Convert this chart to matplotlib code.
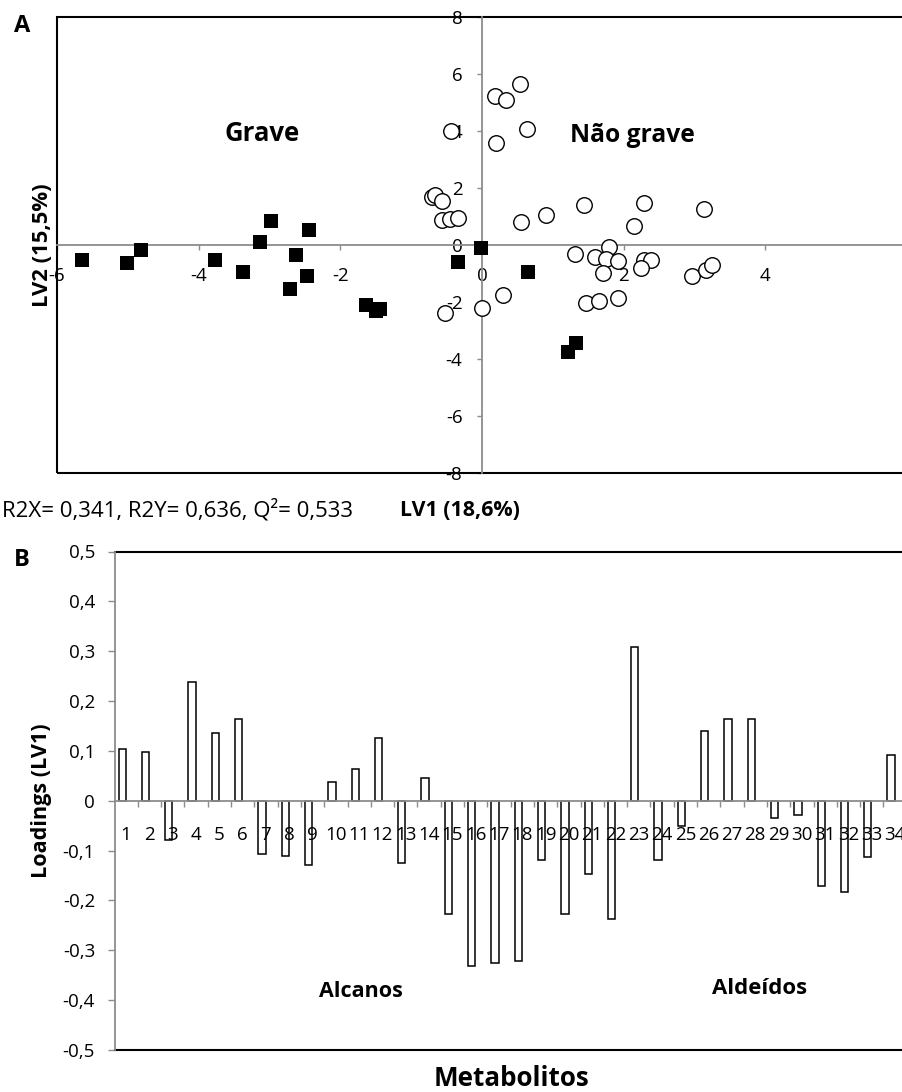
import matplotlib
matplotlib.use('Agg')
from matplotlib import pyplot as plt
from matplotlib.patches import Rectangle
import numpy as np

plt.rcParams['font.family'] = ['Open Sans', 'DejaVu Sans']
plt.rcParams['axes.unicode_minus'] = False

# scores LV1 x LV2 - pacientes graves (quadrados)
grave_lv1 = [-5.65, -5.01, -4.82, -3.77, -3.37, -3.13, -2.98, -2.62, -2.71, -2.47,
             -2.44, -1.64, -1.50, -1.44, -0.34, -0.01, 0.65, 1.32, 1.21]
grave_lv2 = [-0.53, -0.63, -0.18, -0.55, -0.95, 0.10, 0.85, -0.35, -1.54, -1.09,
             0.53, -2.11, -2.34, -2.25, -0.60, -0.10, -0.94, -3.46, -3.76]

# scores LV1 x LV2 - pacientes nao graves (circulos)
nao_grave_lv1 = [0.18, 0.34, 0.54, 0.63, 0.20, -0.44, 1.44, 2.29, 3.13, 2.14,
                 0.90, 0.55, 1.79, 1.31, 1.59, 1.75, 1.92, 1.71, 2.29, 2.39,
                 2.24, 2.96, 3.16, 3.25, 1.47, 1.65, 1.92, 0.29, 0.00, -0.52,
                 -0.71, -0.67, -0.57, -0.57, -0.45, -0.34]
nao_grave_lv2 = [5.22, 5.10, 5.66, 4.07, 3.58, 4.01, 1.40, 1.47, 1.27, 0.67,
                 1.03, 0.79, -0.08, -0.32, -0.43, -0.50, -0.56, -1.00, -0.53, -0.55,
                 -0.82, -1.11, -0.90, -0.70, -2.03, -1.96, -1.88, -1.78, -2.21, -2.41,
                 1.67, 1.76, 1.55, 0.88, 0.90, 0.94]

score_xticks = [-6, -4, -2, 0, 2, 4, 6]
score_yticks = [-8, -6, -4, -2, 0, 2, 4, 6, 8]

# loadings da LV1 por metabolito
metabolitos = list(range(1, 35))
loadings = [0.104, 0.097, -0.078, 0.239, 0.135, 0.164, -0.106, -0.110, -0.128, 0.037,
            0.064, 0.126, -0.125, 0.045, -0.228, -0.331, -0.325, -0.321, -0.119, -0.228,
            -0.147, -0.238, 0.309, -0.119, -0.050, 0.139, 0.164, 0.164, -0.035, -0.029,
            -0.171, -0.183, -0.113, 0.091]
loading_ticks = [-0.5, -0.4, -0.3, -0.2, -0.1, 0, 0.1, 0.2, 0.3, 0.4, 0.5]
loading_labels = ['-0,5', '-0,4', '-0,3', '-0,2', '-0,1', '0',
                  '0,1', '0,2', '0,3', '0,4', '0,5']

GRAY = '#8c8c8c'
W, H = 902, 1092
TICK_FS = 13.5

fig = plt.figure(figsize=(W / 100, H / 100), dpi=100)


def fx(px):
    return px / W


def fy(py):
    return 1 - py / H


# ---------------- A: scores ----------------
axA = fig.add_axes([fx(57), fy(472.5), 850 / W, 455.5 / H])
axA.set_xlim(-6, 6)
axA.set_ylim(-8, 8)
axA.scatter(grave_lv1, grave_lv2, marker='s', s=112, c='black', linewidths=0, zorder=3)
axA.scatter(nao_grave_lv1, nao_grave_lv2, marker='o', s=125, facecolors='white',
            edgecolors='black', linewidths=1.0, zorder=3)

for side in ['top', 'right']:
    axA.spines[side].set_visible(False)
for side in ['left', 'bottom']:
    axA.spines[side].set_position(('data', 0))
    axA.spines[side].set_color(GRAY)
    axA.spines[side].set_linewidth(1.3)
axA.add_patch(Rectangle((0, 0), 1, 1, transform=axA.transAxes, fill=False,
                        edgecolor='black', linewidth=1.5, clip_on=False, zorder=2))

axA.set_xticks(score_xticks)
axA.set_xticklabels([str(v) for v in score_xticks])
axA.set_yticks(score_yticks)
axA.set_yticklabels([str(v) for v in score_yticks])
axA.tick_params(axis='x', direction='out', length=3.6, width=1, color=GRAY,
                pad=12.5, labelsize=TICK_FS)
axA.tick_params(axis='y', direction='out', length=3.6, width=1, color=GRAY,
                pad=10.5, labelsize=TICK_FS)

axA.text(-3.1, 3.9, 'Grave', ha='center', va='center', fontsize=18.5, fontweight='bold')
axA.text(2.13, 3.84, 'Não grave', ha='center', va='center', fontsize=17.7, fontweight='bold')

fig.text(fx(22.5), fy(26.5), 'A', ha='center', va='center', fontsize=17, fontweight='bold')
fig.text(fx(42), fy(245), 'LV2 (15,5%)', ha='center', va='center', rotation=90,
         fontsize=15.8, fontweight='bold')
fig.text(fx(2), fy(510), 'R2X= 0,341, R2Y= 0,636, Q²= 0,533', ha='left', va='center',
         fontsize=16)
fig.text(fx(460), fy(510), 'LV1 (18,6%)', ha='center', va='center', fontsize=15.4,
         fontweight='bold')

# ---------------- B: loadings ----------------
axB = fig.add_axes([fx(114.5), fy(1050), 792.2 / W, 498.5 / H])
axB.set_xlim(0.5, 34.5)
axB.set_ylim(-0.5, 0.5)
axB.bar(np.array(metabolitos) - 0.17, loadings, width=0.31, color='white',
        edgecolor='black', linewidth=1.1, zorder=1)

axB.spines['top'].set_visible(False)
axB.spines['right'].set_visible(False)
axB.spines['left'].set_color(GRAY)
axB.spines['left'].set_linewidth(1.3)
axB.spines['bottom'].set_position(('data', 0))
axB.spines['bottom'].set_color(GRAY)
axB.spines['bottom'].set_linewidth(1.3)
for yy in (0, 1):
    axB.plot([0, 1], [yy, yy], transform=axB.transAxes, color='black', lw=1.5,
             clip_on=False, zorder=2)

axB.set_yticks(loading_ticks)
axB.set_yticklabels(loading_labels)
axB.set_xticks(metabolitos)
axB.set_xticklabels([str(m) for m in metabolitos])
axB.set_xticks(np.arange(1.5, 34.5, 1), minor=True)
axB.tick_params(axis='x', which='major', length=0, pad=18, labelsize=TICK_FS)
axB.tick_params(axis='x', which='minor', direction='out', length=4.3, width=1, color=GRAY)
axB.tick_params(axis='y', direction='out', length=5, width=1, color=GRAY, pad=9,
                labelsize=TICK_FS)

axB.text(11.06, -0.383, 'Alcanos', ha='center', va='center', fontsize=15.5, fontweight='bold')
axB.text(28.2, -0.376, 'Aldeídos', ha='center', va='center', fontsize=15.9, fontweight='bold')

fig.text(fx(21.5), fy(560), 'B', ha='center', va='center', fontsize=17, fontweight='bold')
fig.text(fx(42), fy(801), 'Loadings (LV1)', ha='center', va='center', rotation=90,
         fontsize=15.6, fontweight='bold')
fig.text(fx(512), fy(1079), 'Metabolitos', ha='center', va='center', fontsize=18.7,
         fontweight='bold')

fig.savefig('out.png', dpi=100)
